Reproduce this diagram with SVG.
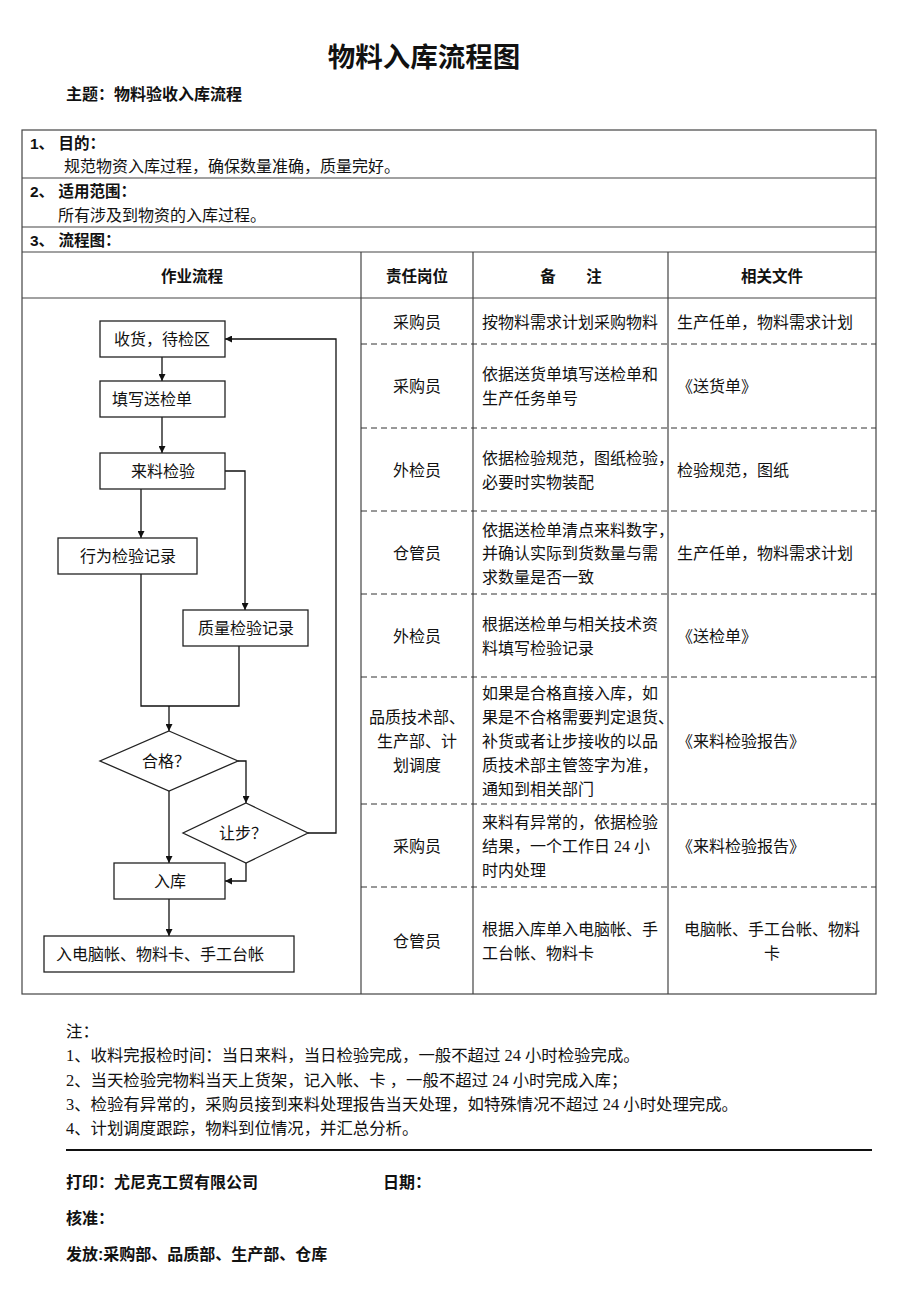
<svg xmlns="http://www.w3.org/2000/svg" width="920" height="1302" viewBox="0 0 920 1302">
<style>
text{font-family:"Liberation Serif","Noto Sans CJK SC",serif;font-size:16px;fill:#111;}
.b{font-weight:bold;font-family:"Liberation Sans","Noto Sans CJK SC",sans-serif;font-size:15.5px;}
.c{text-anchor:middle;}
.n{font-size:16.4px;}
.tl{stroke:#444;stroke-width:1.2;fill:none;}
.dl{stroke:#333;stroke-width:1;stroke-dasharray:6 4;fill:none;}
.nd{stroke:#222;stroke-width:1.3;fill:#fff;}
.cn{stroke:#111;stroke-width:1.3;fill:none;}
</style>
<defs>
<marker id="ah" viewBox="0 0 10 10" refX="10" refY="5" markerWidth="7" markerHeight="7" markerUnits="userSpaceOnUse" orient="auto">
<path d="M0,0 L10,5 L0,10 Z" fill="#111"/>
</marker>
</defs>
<rect width="920" height="1302" fill="#fff"/>

<g id="header">
<text x="424" y="67" class="b c" style="font-size:27.5px">物料入库流程图</text>
<text x="66" y="100" class="b" style="font-size:16px">主题：物料验收入库流程</text>
</g>

<g id="table">
<rect x="22" y="130" width="854" height="864" class="tl"/>
<line x1="22" y1="178" x2="876" y2="178" class="tl"/>
<line x1="22" y1="227" x2="876" y2="227" class="tl"/>
<line x1="22" y1="252" x2="876" y2="252" class="tl"/>
<line x1="22" y1="298" x2="876" y2="298" class="tl"/>
<line x1="361" y1="252" x2="361" y2="994" class="tl"/>
<line x1="473" y1="252" x2="473" y2="994" class="tl"/>
<line x1="668" y1="252" x2="668" y2="994" class="tl"/>
<line x1="361" y1="344" x2="876" y2="344" class="dl"/>
<line x1="361" y1="428" x2="876" y2="428" class="dl"/>
<line x1="361" y1="511" x2="876" y2="511" class="dl"/>
<line x1="361" y1="594" x2="876" y2="594" class="dl"/>
<line x1="361" y1="677" x2="876" y2="677" class="dl"/>
<line x1="361" y1="804" x2="876" y2="804" class="dl"/>
<line x1="361" y1="887" x2="876" y2="887" class="dl"/>
<text x="30" y="149" class="b">1、 目的：</text>
<text x="64" y="172">规范物资入库过程，确保数量准确，质量完好。</text>
<text x="30" y="197" class="b">2、 适用范围：</text>
<text x="58" y="221">所有涉及到物资的入库过程。</text>
<text x="30" y="246" class="b">3、 流程图：</text>
<text x="192" y="282" class="b c">作业流程</text>
<text x="417" y="282" class="b c">责任岗位</text>
<text x="548" y="282" class="b c">备</text>
<text x="594" y="282" class="b c">注</text>
<text x="772" y="282" class="b c">相关文件</text>

<text x="417" y="328" class="c">采购员</text>
<text x="482" y="328">按物料需求计划采购物料</text>
<text x="677" y="328">生产任单，物料需求计划</text>

<text x="417" y="392" class="c">采购员</text>
<text x="482" y="380">依据送货单填写送检单和</text>
<text x="482" y="404">生产任务单号</text>
<text x="677" y="392">《送货单》</text>

<text x="417" y="476" class="c">外检员</text>
<text x="482" y="464">依据检验规范，图纸检验，</text>
<text x="482" y="488">必要时实物装配</text>
<text x="677" y="476">检验规范，图纸</text>

<text x="417" y="559" class="c">仓管员</text>
<text x="482" y="536">依据送检单清点来料数字，</text>
<text x="482" y="559">并确认实际到货数量与需</text>
<text x="482" y="583">求数量是否一致</text>
<text x="677" y="559">生产任单，物料需求计划</text>

<text x="417" y="642" class="c">外检员</text>
<text x="482" y="630">根据送检单与相关技术资</text>
<text x="482" y="654">料填写检验记录</text>
<text x="677" y="642">《送检单》</text>

<text x="417" y="723" class="c">品质技术部、</text>
<text x="417" y="747" class="c">生产部、计</text>
<text x="417" y="771" class="c">划调度</text>
<text x="482" y="699">如果是合格直接入库，如</text>
<text x="482" y="723">果是不合格需要判定退货、</text>
<text x="482" y="747">补货或者让步接收的以品</text>
<text x="482" y="771">质技术部主管签字为准，</text>
<text x="482" y="795">通知到相关部门</text>
<text x="677" y="747">《来料检验报告》</text>

<text x="417" y="852" class="c">采购员</text>
<text x="482" y="828">来料有异常的，依据检验</text>
<text x="482" y="852">结果，一个工作日 24 小</text>
<text x="482" y="876">时内处理</text>
<text x="677" y="852">《来料检验报告》</text>

<text x="417" y="947" class="c">仓管员</text>
<text x="482" y="935">根据入库单入电脑帐、手</text>
<text x="482" y="959">工台帐、物料卡</text>
<text x="772" y="935" class="c">电脑帐、手工台帐、物料</text>
<text x="772" y="959" class="c">卡</text>
</g>

<g id="connectors">
<line x1="162" y1="357" x2="162" y2="381" class="cn" marker-end="url(#ah)"/>
<line x1="162" y1="417" x2="162" y2="453" class="cn" marker-end="url(#ah)"/>
<line x1="141" y1="489" x2="141" y2="538" class="cn" marker-end="url(#ah)"/>
<polyline points="225,471 245,471 245,610" class="cn" marker-end="url(#ah)"/>
<polyline points="141,574 141,706 239,706 239,646" class="cn"/>
<line x1="169" y1="706" x2="169" y2="731" class="cn" marker-end="url(#ah)"/>
<polyline points="238,761 246,761 246,803" class="cn" marker-end="url(#ah)"/>
<line x1="169" y1="791" x2="169" y2="863" class="cn" marker-end="url(#ah)"/>
<polyline points="246,863 246,881 225,881" class="cn" marker-end="url(#ah)"/>
<polyline points="308,833 336,833 336,339 225,339" class="cn" marker-end="url(#ah)"/>
<line x1="169" y1="899" x2="169" y2="936" class="cn" marker-end="url(#ah)"/>
</g>

<g id="n1"><rect x="100" y="321" width="125" height="36" class="nd"/><text x="162" y="345" class="c">收货，待检区</text></g>
<g id="n2"><rect x="100" y="381" width="125" height="36" class="nd"/><text x="112" y="405">填写送检单</text></g>
<g id="n3"><rect x="100" y="453" width="125" height="36" class="nd"/><text x="163" y="477" class="c">来料检验</text></g>
<g id="n4"><rect x="58" y="538" width="139" height="36" class="nd"/><text x="128" y="562" class="c">行为检验记录</text></g>
<g id="n5"><rect x="183" y="610" width="125" height="36" class="nd"/><text x="246" y="634" class="c">质量检验记录</text></g>
<g id="n6"><polygon points="169,731 238,761 169,791 100,761" class="nd"/><text x="166" y="767" class="c">合格？</text></g>
<g id="n7"><polygon points="246,803 308,833 246,863 183,833" class="nd"/><text x="243" y="839" class="c">让步？</text></g>
<g id="n8"><rect x="114" y="863" width="111" height="36" class="nd"/><text x="170" y="887" class="c">入库</text></g>
<g id="n9"><rect x="44" y="936" width="250" height="36" class="nd"/><text x="56" y="960">入电脑帐、物料卡、手工台帐</text></g>

<g id="notes">
<text x="66" y="1037" class="n">注：</text>
<text x="66" y="1061" class="n">1、收料完报检时间：当日来料，当日检验完成，一般不超过 24 小时检验完成。</text>
<text x="66" y="1086" class="n">2、当天检验完物料当天上货架，记入帐、卡 ，一般不超过 24 小时完成入库；</text>
<text x="66" y="1110" class="n">3、检验有异常的，采购员接到来料处理报告当天处理，如特殊情况不超过 24 小时处理完成。</text>
<text x="66" y="1134" class="n">4、计划调度跟踪，物料到位情况，并汇总分析。</text>
<line x1="66" y1="1150" x2="872" y2="1150" stroke="#111" stroke-width="2.2"/>
<text x="66" y="1188" class="b" style="font-size:16px">打印：尤尼克工贸有限公司</text>
<text x="383" y="1188" class="b" style="font-size:16px">日期：</text>
<text x="66" y="1224" class="b" style="font-size:16px">核准：</text>
<text x="66" y="1260" class="b" style="font-size:16px">发放:采购部、品质部、生产部、仓库</text>
</g>
</svg>
